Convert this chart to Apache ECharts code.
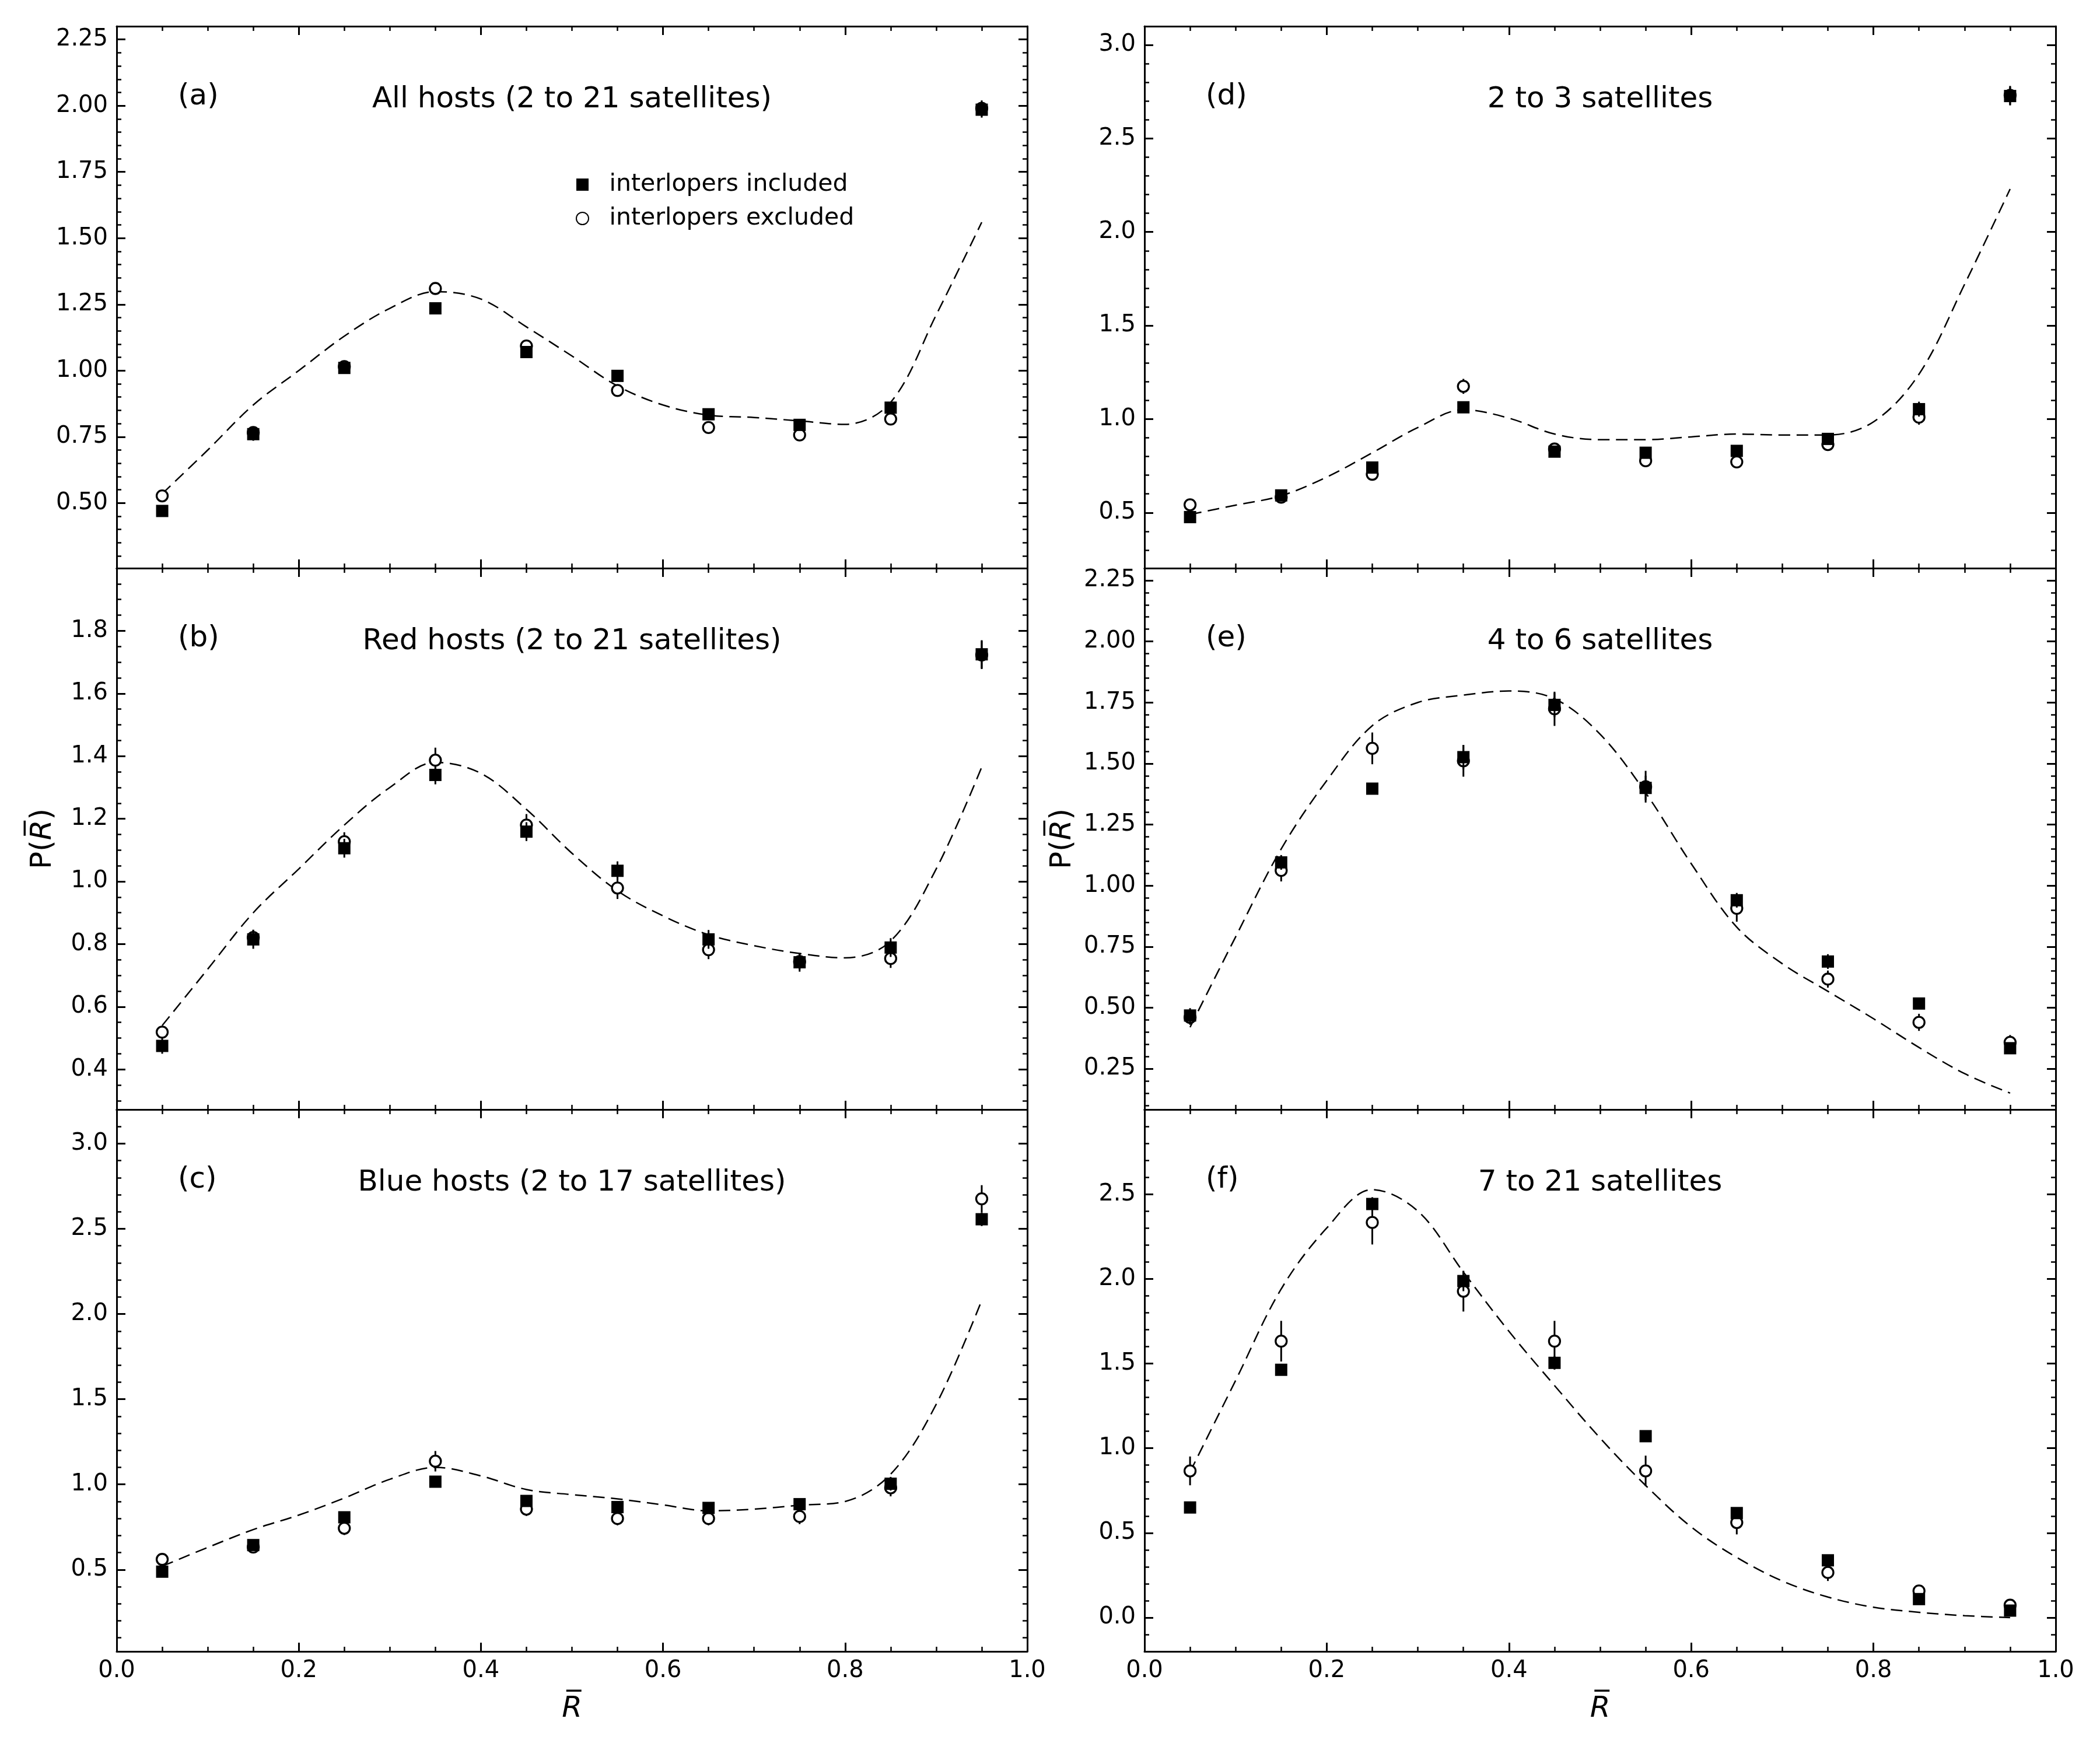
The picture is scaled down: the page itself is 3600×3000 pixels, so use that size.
<!DOCTYPE html>
<html>
<head>
<meta charset="utf-8">
<script src="https://cdn.jsdelivr.net/npm/echarts@6/dist/echarts.min.js"></script>
<style>
html,body{margin:0;padding:0;background:#ffffff;}
#chart{width:3600px;height:3000px;}
</style>
</head>
<body>
<div id="chart"></div>
<script>
// ---------------- DATA ----------------
const xCenters = [0.05, 0.15, 0.25, 0.35, 0.45, 0.55, 0.65, 0.75, 0.85, 0.95];
const modelX = [0.05, 0.10, 0.15, 0.20, 0.25, 0.30, 0.35, 0.40, 0.45, 0.50, 0.55, 0.60, 0.65, 0.70, 0.75, 0.80, 0.85, 0.90, 0.95];

// (a) All hosts
const aIncluded    = [0.470, 0.760, 1.010, 1.235, 1.070, 0.980, 0.835, 0.795, 0.860, 1.985];
const aIncludedErr = [0.020, 0.025, 0.020, 0.020, 0.020, 0.020, 0.015, 0.015, 0.020, 0.030];
const aExcluded    = [0.527, 0.766, 1.015, 1.310, 1.093, 0.925, 0.785, 0.757, 0.817, 1.990];
const aExcludedErr = [0.015, 0.020, 0.020, 0.020, 0.020, 0.015, 0.015, 0.015, 0.015, 0.030];
const aModel = [0.535, 0.70, 0.87, 1.00, 1.13, 1.235, 1.298, 1.27, 1.165, 1.055, 0.942, 0.87, 0.832, 0.823, 0.81, 0.797, 0.88, 1.21, 1.56];

// (b) Red hosts
const bIncluded    = [0.475, 0.815, 1.106, 1.340, 1.159, 1.034, 0.815, 0.742, 0.789, 1.725];
const bIncludedErr = [0.025, 0.030, 0.030, 0.030, 0.030, 0.030, 0.030, 0.030, 0.030, 0.045];
const bExcluded    = [0.519, 0.821, 1.127, 1.387, 1.180, 0.979, 0.782, 0.744, 0.754, 1.723];
const bExcludedErr = [0.020, 0.025, 0.030, 0.040, 0.035, 0.035, 0.030, 0.025, 0.030, 0.045];
const bModel = [0.54, 0.72, 0.90, 1.04, 1.18, 1.30, 1.38, 1.345, 1.23, 1.09, 0.97, 0.89, 0.83, 0.795, 0.77, 0.756, 0.81, 1.04, 1.365];

// (c) Blue hosts
const cIncluded    = [0.488, 0.644, 0.807, 1.016, 0.903, 0.867, 0.862, 0.884, 1.004, 2.556];
const cIncludedErr = [0.020, 0.025, 0.030, 0.030, 0.030, 0.030, 0.030, 0.030, 0.040, 0.040];
const cExcluded    = [0.560, 0.632, 0.743, 1.136, 0.855, 0.800, 0.800, 0.812, 0.980, 2.676];
const cExcludedErr = [0.025, 0.030, 0.040, 0.060, 0.040, 0.040, 0.040, 0.045, 0.050, 0.080];
const cModel = [0.52, 0.63, 0.735, 0.82, 0.92, 1.03, 1.10, 1.05, 0.97, 0.94, 0.915, 0.88, 0.845, 0.855, 0.878, 0.90, 1.06, 1.47, 2.08];

// (d) 2 to 3 satellites
const dIncluded    = [0.476, 0.592, 0.741, 1.063, 0.826, 0.820, 0.830, 0.894, 1.053, 2.727];
const dIncludedErr = [0.020, 0.025, 0.030, 0.030, 0.030, 0.030, 0.030, 0.030, 0.040, 0.050];
const dExcluded    = [0.542, 0.582, 0.705, 1.175, 0.840, 0.777, 0.771, 0.864, 1.010, 2.731];
const dExcludedErr = [0.020, 0.025, 0.030, 0.040, 0.030, 0.030, 0.030, 0.030, 0.040, 0.050];
const dModel = [0.49, 0.54, 0.59, 0.69, 0.82, 0.955, 1.05, 1.005, 0.92, 0.89, 0.89, 0.905, 0.92, 0.915, 0.915, 0.985, 1.24, 1.72, 2.23];

// (e) 4 to 6 satellites
const eIncluded    = [0.468, 1.095, 1.397, 1.526, 1.740, 1.400, 0.940, 0.689, 0.517, 0.334];
const eIncludedErr = [0.030, 0.030, 0.020, 0.050, 0.050, 0.050, 0.030, 0.030, 0.020, 0.020];
const eExcluded    = [0.460, 1.062, 1.562, 1.511, 1.724, 1.405, 0.907, 0.617, 0.440, 0.358];
const eExcludedErr = [0.030, 0.045, 0.065, 0.065, 0.070, 0.065, 0.055, 0.035, 0.035, 0.030];
const eModel = [0.42, 0.79, 1.15, 1.43, 1.655, 1.75, 1.78, 1.797, 1.765, 1.62, 1.38, 1.09, 0.83, 0.68, 0.567, 0.455, 0.337, 0.23, 0.15];

// (f) 7 to 21 satellites
const fIncluded    = [0.650, 1.463, 2.442, 1.987, 1.504, 1.071, 0.617, 0.338, 0.109, 0.041];
const fIncludedErr = [0.020, 0.030, 0.040, 0.060, 0.040, 0.030, 0.030, 0.020, 0.020, 0.010];
const fExcluded    = [0.866, 1.632, 2.333, 1.927, 1.632, 0.866, 0.561, 0.266, 0.157, 0.073];
const fExcludedErr = [0.085, 0.120, 0.130, 0.120, 0.120, 0.090, 0.070, 0.050, 0.030, 0.020];
const fModel = [0.86, 1.40, 1.94, 2.30, 2.527, 2.40, 2.04, 1.69, 1.37, 1.06, 0.78, 0.535, 0.355, 0.216, 0.121, 0.061, 0.031, 0.011, 0.0];

// texts
const panelTags = ['(a)', '(b)', '(c)', '(d)', '(e)', '(f)'];
const panelTitles = ['All hosts (2 to 21 satellites)', 'Red hosts (2 to 21 satellites)', 'Blue hosts (2 to 17 satellites)',
                     '2 to 3 satellites', '4 to 6 satellites', '7 to 21 satellites'];
const legendNames = ['interlopers included', 'interlopers excluded'];

// tick labels
const xTickLabels = [0.0, 0.2, 0.4, 0.6, 0.8, 1.0];
const aYTicks = [0.50, 0.75, 1.00, 1.25, 1.50, 1.75, 2.00, 2.25];
const bYTicks = [0.4, 0.6, 0.8, 1.0, 1.2, 1.4, 1.6, 1.8];
const cYTicks = [0.5, 1.0, 1.5, 2.0, 2.5, 3.0];
const dYTicks = [0.5, 1.0, 1.5, 2.0, 2.5, 3.0];
const eYTicks = [0.25, 0.50, 0.75, 1.00, 1.25, 1.50, 1.75, 2.00, 2.25];
const fYTicks = [0.0, 0.5, 1.0, 1.5, 2.0, 2.5];

// ---------------- BUILD ----------------
function steps(a, b, s) { const r = []; for (let v = a; v <= b + 1e-9; v += s) r.push(Math.round(v * 1000) / 1000); return r; }
function minorOf(a, b, s, majors) { return steps(a, b, s).filter(v => !majors.some(m => Math.abs(m - v) < 1e-6)); }

const FONT = '"DejaVu Sans", sans-serif';
const panels = [
  { inc: aIncluded, incE: aIncludedErr, exc: aExcluded, excE: aExcludedErr, model: aModel, yt: aYTicks, dec: 2, min: 0.254, max: 2.30, minorStep: 0.05, col: 0, row: 0 },
  { inc: bIncluded, incE: bIncludedErr, exc: bExcluded, excE: bExcludedErr, model: bModel, yt: bYTicks, dec: 1, min: 0.272, max: 2.00, minorStep: 0.05, col: 0, row: 1 },
  { inc: cIncluded, incE: cIncludedErr, exc: cExcluded, excE: cExcludedErr, model: cModel, yt: cYTicks, dec: 1, min: 0.02, max: 3.20, minorStep: 0.1, col: 0, row: 2 },
  { inc: dIncluded, incE: dIncludedErr, exc: dExcluded, excE: dExcludedErr, model: dModel, yt: dYTicks, dec: 1, min: 0.203, max: 3.10, minorStep: 0.1, col: 1, row: 0 },
  { inc: eIncluded, incE: eIncludedErr, exc: eExcluded, excE: eExcludedErr, model: eModel, yt: eYTicks, dec: 2, min: 0.083, max: 2.30, minorStep: 0.05, col: 1, row: 1 },
  { inc: fIncluded, incE: fIncludedErr, exc: fExcluded, excE: fExcludedErr, model: fModel, yt: fYTicks, dec: 1, min: -0.20, max: 3.00, minorStep: 0.1, col: 1, row: 2 }
];

const colLeft = [200, 1962];
const colWidth = [1561, 1562];
const rowTop = [45, 974, 1902];
const rowHeight = [929, 928, 929];

const grids = [], xAxes = [], yAxes = [], series = [], graphics = [];
const xMinor = minorOf(0.05, 0.95, 0.05, xTickLabels);

const nameRich = {
  a: { fontFamily: FONT, fontSize: 50, color: '#000' },
  b: { fontFamily: FONT, fontSize: 50, fontStyle: 'italic', color: '#000' }
};

function errRender(params, api) {
  const x = api.value(0), y = api.value(1), e = api.value(2);
  const p1 = api.coord([x, y - e]);
  const p2 = api.coord([x, y + e]);
  return { type: 'line', shape: { x1: p1[0], y1: p1[1], x2: p2[0], y2: p2[1] }, style: { stroke: '#000', lineWidth: 3 } };
}

panels.forEach((p, k) => {
  const g = { left: colLeft[p.col], top: rowTop[p.row], width: colWidth[p.col], height: rowHeight[p.row] };
  grids.push(Object.assign({ containLabel: false }, g));
  grids.push(Object.assign({ containLabel: false }, g));
  const gMaj = 2 * k, gMin = 2 * k + 1;
  const isBottom = p.row === 2;
  const yMinor = minorOf(Math.ceil(p.min / p.minorStep) * p.minorStep, p.max - 0.001, p.minorStep, p.yt);

  const lineStyle = { color: '#000', width: 3 };
  // x axes
  xAxes.push({ type: 'value', gridIndex: gMaj, position: 'bottom', min: 0, max: 1,
    axisLine: { show: true, onZero: false, lineStyle },
    axisTick: { show: true, inside: true, length: 15, lineStyle: { color: '#000', width: 3 }, customValues: xTickLabels },
    axisLabel: { show: isBottom, customValues: xTickLabels, margin: 14, fontSize: 40, fontFamily: FONT, color: '#000', formatter: v => v.toFixed(1) },
    splitLine: { show: false },
    name: isBottom ? '{b|R\u0305}' : '', nameLocation: 'middle', nameGap: 74, nameTextStyle: { rich: nameRich }
  });
  xAxes.push({ type: 'value', gridIndex: gMaj, position: 'top', min: 0, max: 1,
    axisLine: { show: true, onZero: false, lineStyle },
    axisTick: { show: true, inside: true, length: 15, lineStyle: { color: '#000', width: 3 }, customValues: xTickLabels },
    axisLabel: { show: false }, splitLine: { show: false } });
  xAxes.push({ type: 'value', gridIndex: gMin, position: 'bottom', min: 0, max: 1,
    axisLine: { show: false, onZero: false },
    axisTick: { show: true, inside: true, length: 8, lineStyle: { color: '#000', width: 2.5 }, customValues: xMinor },
    axisLabel: { show: false }, splitLine: { show: false } });
  xAxes.push({ type: 'value', gridIndex: gMin, position: 'top', min: 0, max: 1,
    axisLine: { show: false, onZero: false },
    axisTick: { show: true, inside: true, length: 8, lineStyle: { color: '#000', width: 2.5 }, customValues: xMinor },
    axisLabel: { show: false }, splitLine: { show: false } });

  // y axes
  const showName = p.row === 1;
  yAxes.push({ type: 'value', gridIndex: gMaj, position: 'left', min: p.min, max: p.max,
    axisLine: { show: true, onZero: false, lineStyle },
    axisTick: { show: true, inside: true, length: 15, lineStyle: { color: '#000', width: 3 }, customValues: p.yt },
    axisLabel: { show: true, customValues: p.yt, margin: 15, fontSize: 40, fontFamily: FONT, color: '#000', formatter: v => v.toFixed(p.dec) },
    splitLine: { show: false },
    name: showName ? '{a|P(}{b|R\u0305}{a|)}' : '', nameLocation: 'middle', nameGap: p.col === 0 ? 101 : 115,
    nameTextStyle: { rich: nameRich }
  });
  yAxes.push({ type: 'value', gridIndex: gMaj, position: 'right', min: p.min, max: p.max,
    axisLine: { show: true, onZero: false, lineStyle },
    axisTick: { show: true, inside: true, length: 15, lineStyle: { color: '#000', width: 3 }, customValues: p.yt },
    axisLabel: { show: false }, splitLine: { show: false } });
  yAxes.push({ type: 'value', gridIndex: gMin, position: 'left', min: p.min, max: p.max,
    axisLine: { show: false, onZero: false },
    axisTick: { show: true, inside: true, length: 8, lineStyle: { color: '#000', width: 2.5 }, customValues: yMinor },
    axisLabel: { show: false }, splitLine: { show: false } });
  yAxes.push({ type: 'value', gridIndex: gMin, position: 'right', min: p.min, max: p.max,
    axisLine: { show: false, onZero: false },
    axisTick: { show: true, inside: true, length: 8, lineStyle: { color: '#000', width: 2.5 }, customValues: yMinor },
    axisLabel: { show: false }, splitLine: { show: false } });

  const xi = 4 * k, yi = 4 * k;
  series.push({ type: 'line', xAxisIndex: xi, yAxisIndex: yi, z: 2, symbol: 'none', smooth: 0.35,
    data: modelX.map((x, i) => [x, p.model[i]]),
    lineStyle: { color: '#000', width: 2.5, type: [20, 11] }, silent: true });
  series.push({ type: 'custom', xAxisIndex: xi, yAxisIndex: yi, z: 3, silent: true,
    data: xCenters.map((x, i) => [x, p.exc[i], p.excE[i]]), encode: { x: 0, y: 1 }, renderItem: errRender });
  series.push({ type: 'scatter', name: legendNames[1], xAxisIndex: xi, yAxisIndex: yi, z: 4,
    symbol: 'circle', symbolSize: 19,
    itemStyle: { color: '#ffffff', borderColor: '#000', borderWidth: 3.3, opacity: 1 },
    data: xCenters.map((x, i) => [x, p.exc[i]]) });
  series.push({ type: 'custom', xAxisIndex: xi, yAxisIndex: yi, z: 5, silent: true,
    data: xCenters.map((x, i) => [x, p.inc[i], p.incE[i]]), encode: { x: 0, y: 1 }, renderItem: errRender });
  series.push({ type: 'scatter', name: legendNames[0], xAxisIndex: xi, yAxisIndex: yi, z: 6,
    symbol: 'rect', symbolSize: 21,
    itemStyle: { color: '#000', opacity: 1 },
    data: xCenters.map((x, i) => [x, p.inc[i]]) });

  // panel texts
  graphics.push({ type: 'text', left: g.left + 105, top: g.top + 126 - 30, z: 100,
    style: { text: panelTags[k], fontSize: 50, fontFamily: FONT, fill: '#000' } });
  graphics.push({ type: 'text', x: g.left + g.width / 2, y: g.top + 126, z: 100,
    style: { text: panelTitles[k], fontSize: 50, fontFamily: FONT, fill: '#000', align: 'center', verticalAlign: 'middle', textAlign: 'center', textVerticalAlign: 'middle' } });
});

const option = {
  backgroundColor: '#ffffff',
  animation: false,
  grid: grids,
  xAxis: xAxes,
  yAxis: yAxes,
  series: series,
  graphic: graphics,
  legend: {
    data: [
      { name: legendNames[0], icon: 'path://M0 0H10V10H0Z' },
      { name: legendNames[1] }
    ],
    orient: 'vertical',
    left: 982, top: 291,
    itemWidth: 82, itemHeight: 21, itemGap: 17,
    symbolKeepAspect: true,
    selectedMode: false,
    textStyle: { fontSize: 41, fontFamily: FONT, color: '#000' }
  }
};

const chart = echarts.init(document.getElementById('chart'), null, { renderer: 'canvas' });
chart.setOption(option);
</script>
</body>
</html>
